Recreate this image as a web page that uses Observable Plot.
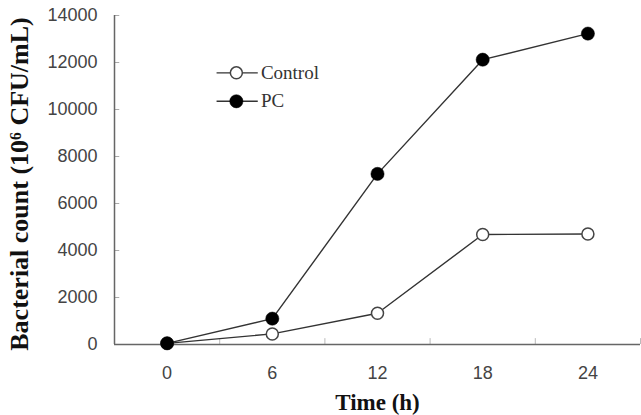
<!DOCTYPE html>
<html>
<head>
<meta charset="utf-8">
<script src="https://cdn.jsdelivr.net/npm/d3@7"></script>
<script src="https://cdn.jsdelivr.net/npm/@observablehq/plot@0.6"></script>
<style>
  html, body { margin: 0; padding: 0; background: #fff; }
</style>
</head>
<body>
<div id="chart"></div>
<script>
// Sampling times (h)
const hours = [0, 6, 12, 18, 24];
// Bacterial count (10^6 CFU/mL) per group
const control = [50, 450, 1330, 4680, 4700];
const pc = [50, 1100, 7260, 12120, 13230];
const seriesNames = ["Control", "PC"];
// Axis ticks
const yTicks = [0, 2000, 4000, 6000, 8000, 10000, 12000, 14000];
const xMinorTicks = [3, 9, 15, 21, 27];

const rows = [
  ...hours.map((h, i) => ({series: seriesNames[0], hour: h, count: control[i]})),
  ...hours.map((h, i) => ({series: seriesNames[1], hour: h, count: pc[i]}))
];

// Legend layout (placed in the upper-left of the frame)
const legendRows = [
  {series: seriesNames[0], y: 11560},
  {series: seriesNames[1], y: 10350}
];
const legendX1 = 2.85, legendX2 = 5.2, legendDot = 3.95, legendText = 5.35;

const serif = "'Liberation Serif', 'Times New Roman', serif";
const sans = "'Liberation Sans', Arial, sans-serif";
const ink = "#333";
const axisColor = "#666";

const chart = Plot.plot({
  width: 641,
  height: 415,
  marginLeft: 114,
  marginRight: 1,
  marginTop: 15,
  marginBottom: 71,
  x: {domain: [-3, 27]},
  y: {domain: [0, 14000]},
  style: {background: "#fff", fontFamily: sans},
  marks: [
    // tick labels
    Plot.axisY(yTicks, {tickSize: 0, tickPadding: 17, tickFormat: d => String(d),
      fontSize: 18, fill: "#444", label: null}),
    Plot.axisX(hours, {tickSize: 0, tickPadding: 22, tickFormat: d => String(d),
      fontSize: 18, fill: "#444", label: null}),
    // small inward tick marks
    Plot.ruleY(yTicks.slice(1), {x1: -3, x2: -2.7, stroke: "#aaa"}),
    Plot.ruleX(xMinorTicks, {y1: 0, y2: 250, stroke: "#bbb"}),
    // axis lines
    Plot.ruleX([-3], {stroke: axisColor, strokeWidth: 1.5}),
    Plot.ruleY([0], {stroke: axisColor, strokeWidth: 1.5}),
    // series
    Plot.line(rows, {x: "hour", y: "count", z: "series", stroke: ink, strokeWidth: 1.4}),
    Plot.dot(rows.filter(d => d.series === "Control"), {x: "hour", y: "count", r: 6,
      fill: "#fff", stroke: "#444", strokeWidth: 1.5}),
    Plot.dot(rows.filter(d => d.series === "PC"), {x: "hour", y: "count", r: 6.6,
      fill: "#000", stroke: "#000", strokeWidth: 0.5}),
    // legend
    Plot.ruleY(legendRows, {y: "y", x1: legendX1, x2: legendX2, stroke: ink, strokeWidth: 1.4}),
    Plot.dot(legendRows.filter(d => d.series === "Control"), {x: legendDot, y: "y", r: 6,
      fill: "#fff", stroke: "#444", strokeWidth: 1.5}),
    Plot.dot(legendRows.filter(d => d.series === "PC"), {x: legendDot, y: "y", r: 6.6,
      fill: "#000", stroke: "#000", strokeWidth: 0.5}),
    Plot.text(legendRows, {x: legendText, y: "y", text: "series", textAnchor: "start",
      fontFamily: serif, fontSize: 19, fill: ink}),
    // axis titles
    Plot.text(["Bacterial count (10\u2076 CFU/mL)"], {frameAnchor: "left", textAnchor: "middle",
      lineAnchor: "middle", dx: -95, dy: 4, rotate: -90,
      fontFamily: serif, fontWeight: "bold", fontSize: 26, fill: "#111"}),
    Plot.text(["Time (h)"], {frameAnchor: "bottom", textAnchor: "middle", dy: 58, lineAnchor: "middle",
      fontFamily: serif, fontWeight: "bold", fontSize: 23, fill: "#111"})
  ]
});

document.getElementById("chart").appendChild(chart);
</script>
</body>
</html>
